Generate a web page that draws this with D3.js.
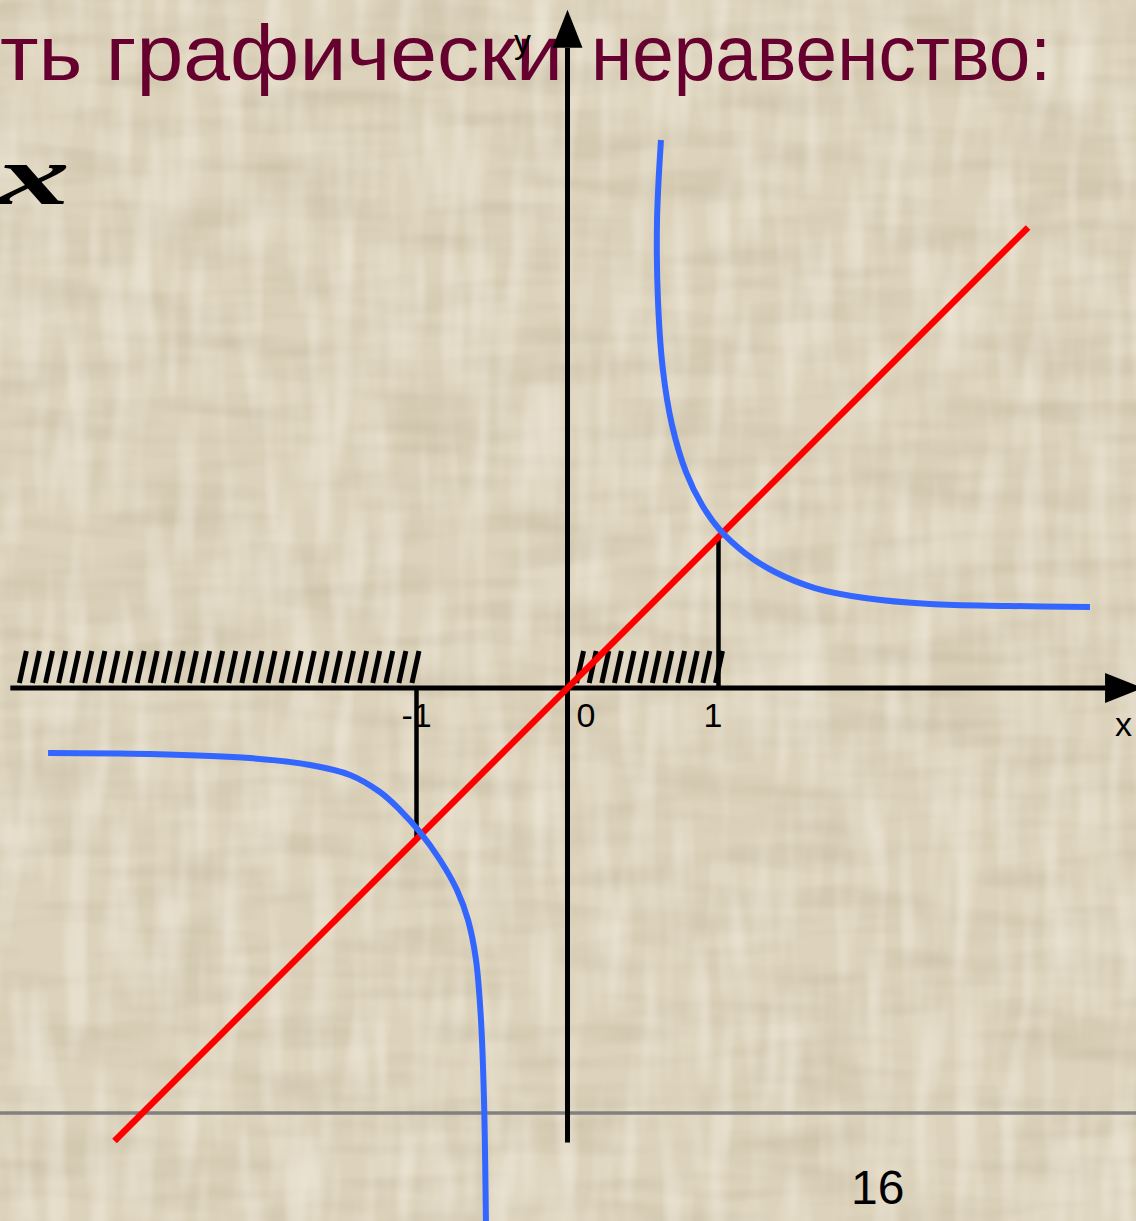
<!DOCTYPE html>
<html lang="ru">
<head>
  <meta charset="UTF-8">
  <title>Решить графически неравенство</title>
  <script src="https://d3js.org/d3.v7.min.js"></script>
  <style>
    body {
      margin: 0;
      width: 1136px;
      height: 1221px;
      overflow: hidden;
      background-color: #ddd2bb;
    }
    svg { display: block; }
  </style>
</head>
<body>
  <div id="chart"></div>

  <script>
    // values (in graph units, 1 = one grid unit)
    const redX = [-3.0, 3.05];
    const redY = [-3.0, 3.05];

    const blueRightX = [0.619, 0.593, 0.599, 0.632, 0.692, 0.785, 0.891, 1.010, 1.175, 1.374, 1.639, 1.970, 2.401, 2.930, 3.460];
    const blueRightY = [3.629, 3.099, 2.570, 2.106, 1.742, 1.430, 1.212, 1.046, 0.894, 0.768, 0.662, 0.596, 0.556, 0.543, 0.536];

    const blueLeftX = [-3.440, -2.765, -2.103, -1.705, -1.440, -1.242, -1.109, -0.977, -0.844, -0.732, -0.659, -0.606, -0.573, -0.553, -0.540];
    const blueLeftY = [-0.430, -0.437, -0.464, -0.510, -0.576, -0.689, -0.808, -0.954, -1.139, -1.338, -1.536, -1.801, -2.199, -2.728, -3.556];

    // solution intervals shaded on the x axis
    const hatchFrom = [-3.63, 0.06];
    const hatchTo = [-1.03, 0.98];

    // drop lines from intersections to the x axis
    const dropX = [-1, 1];
    const dropY = [-1, 1];

    const tickValues = [-1, 0, 1];
    const tickLabels = ['-1', '0', '1'];

    const titleParts = ['ть графически', 'неравенство:'];

    const xAxisRange = [-3.69, 3.56];
    const yAxisRange = [-3.01, 4.24];

    const width = 1136, height = 1221;

    const x = d3.scaleLinear().domain([0, 1]).range([567.5, 718.5]);
    const y = d3.scaleLinear().domain([0, 1]).range([688, 537]);

    const svg = d3.select('#chart')
      .append('svg')
      .attr('width', width)
      .attr('height', height);

    // textured paper background
    const defs = svg.append('defs');
    const f1 = defs.append('filter').attr('id', 'texH')
      .attr('x', 0).attr('y', 0).attr('width', '100%').attr('height', '100%');
    f1.append('feTurbulence').attr('type', 'fractalNoise')
      .attr('baseFrequency', '0.008 0.045').attr('numOctaves', 2).attr('seed', 4);
    f1.append('feColorMatrix').attr('type', 'matrix')
      .attr('values', '0 0 0 0 0.50  0 0 0 0 0.43  0 0 0 0 0.30  0.9 0 0 0 -0.36');
    const f2 = defs.append('filter').attr('id', 'texV')
      .attr('x', 0).attr('y', 0).attr('width', '100%').attr('height', '100%');
    f2.append('feTurbulence').attr('type', 'fractalNoise')
      .attr('baseFrequency', '0.045 0.008').attr('numOctaves', 2).attr('seed', 9);
    f2.append('feColorMatrix').attr('type', 'matrix')
      .attr('values', '0 0 0 0 0.98  0 0 0 0 0.95  0 0 0 0 0.88  0.9 0 0 0 -0.36');

    svg.append('rect').attr('width', width).attr('height', height).attr('fill', '#ddd3bc');
    svg.append('rect').attr('width', width).attr('height', height).attr('filter', 'url(#texH)');
    svg.append('rect').attr('width', width).attr('height', height).attr('filter', 'url(#texV)');

    // title (split around the y axis like the slide)
    const title = svg.append('text')
      .attr('y', 80)
      .attr('font-family', 'Liberation Sans, Arial, sans-serif')
      .attr('font-size', 78)
      .attr('fill', '#66002e');
    title.append('tspan')
      .attr('x', 0)
      .attr('textLength', 563)
      .attr('lengthAdjust', 'spacingAndGlyphs')
      .text(titleParts[0]);
    title.append('tspan')
      .attr('x', 591)
      .attr('textLength', 460)
      .attr('lengthAdjust', 'spacingAndGlyphs')
      .text(titleParts[1]);

    svg.append('text')
      .attr('transform', 'translate(70,204) scale(1.75,1)')
      .attr('text-anchor', 'end')
      .attr('font-family', 'Liberation Serif, serif')
      .attr('font-style', 'italic')
      .attr('font-weight', 'bold')
      .attr('font-size', 84)
      .attr('fill', '#000')
      .text('x');

    // footer rule and page number
    svg.append('line')
      .attr('x1', 0).attr('x2', width)
      .attr('y1', 1113).attr('y2', 1113)
      .attr('stroke', '#808080')
      .attr('stroke-width', 3.5);

    svg.append('text')
      .attr('x', 851)
      .attr('y', 1204)
      .attr('font-family', 'Liberation Sans, Arial, sans-serif')
      .attr('font-size', 48)
      .attr('fill', '#000')
      .text('16');

    // hatching
    const slashes = [];
    hatchFrom.forEach((a, i) => {
      const x0 = x(a), x1 = x(hatchTo[i]);
      const n = Math.round((x1 - x0) / 13);
      const step = (x1 - x0) / n;
      d3.range(n + 1).forEach(k => slashes.push(x0 + k * step));
    });
    svg.append('g')
      .selectAll('line')
      .data(slashes)
      .enter()
      .append('line')
      .attr('x1', d => d)
      .attr('y1', 683)
      .attr('x2', d => d + 7)
      .attr('y2', 651)
      .attr('stroke', '#000')
      .attr('stroke-width', 5);

    // axes
    svg.append('line')
      .attr('x1', x(xAxisRange[0])).attr('x2', x(xAxisRange[1]))
      .attr('y1', y(0)).attr('y2', y(0))
      .attr('stroke', '#000').attr('stroke-width', 5);
    svg.append('path')
      .attr('d', `M${x(xAxisRange[1])},${y(0) - 15}L${x(xAxisRange[1]) + 38},${y(0)}L${x(xAxisRange[1])},${y(0) + 15}Z`)
      .attr('fill', '#000');

    svg.append('line')
      .attr('x1', x(0)).attr('x2', x(0))
      .attr('y1', y(yAxisRange[0])).attr('y2', y(yAxisRange[1]))
      .attr('stroke', '#000').attr('stroke-width', 5);
    svg.append('path')
      .attr('d', `M${x(0) - 15},${y(yAxisRange[1])}L${x(0)},${y(yAxisRange[1]) - 38}L${x(0) + 15},${y(yAxisRange[1])}Z`)
      .attr('fill', '#000');

    // drop lines
    svg.append('g')
      .selectAll('line')
      .data(dropX)
      .enter()
      .append('line')
      .attr('x1', d => x(d)).attr('x2', d => x(d))
      .attr('y1', y(0)).attr('y2', (d, i) => y(dropY[i]))
      .attr('stroke', '#000').attr('stroke-width', 4.5);

    // tick labels
    const labelDx = [-15, 9, -15];
    svg.append('g')
      .selectAll('text')
      .data(tickValues)
      .enter()
      .append('text')
      .attr('x', (d, i) => x(d) + labelDx[i])
      .attr('y', 727)
      .attr('font-family', 'Liberation Sans, Arial, sans-serif')
      .attr('font-size', 34)
      .attr('fill', '#000')
      .text((d, i) => tickLabels[i]);

    svg.append('text')
      .attr('x', 1115).attr('y', 736)
      .attr('font-family', 'Liberation Sans, Arial, sans-serif')
      .attr('font-size', 34)
      .text('x');
    svg.append('text')
      .attr('x', 514).attr('y', 53)
      .attr('font-family', 'Liberation Sans, Arial, sans-serif')
      .attr('font-size', 34)
      .text('y');

    // curves
    const line = d3.line()
      .x(d => x(d[0]))
      .y(d => y(d[1]))
      .curve(d3.curveCatmullRom.alpha(0.5));

    svg.append('path')
      .datum(redX.map((v, i) => [v, redY[i]]))
      .attr('d', d3.line().x(d => x(d[0])).y(d => y(d[1])))
      .attr('fill', 'none')
      .attr('stroke', '#ff0000')
      .attr('stroke-width', 6.5);

    svg.append('path')
      .datum(blueRightX.map((v, i) => [v, blueRightY[i]]))
      .attr('d', line)
      .attr('fill', 'none')
      .attr('stroke', '#3366ff')
      .attr('stroke-width', 6);

    svg.append('path')
      .datum(blueLeftX.map((v, i) => [v, blueLeftY[i]]))
      .attr('d', line)
      .attr('fill', 'none')
      .attr('stroke', '#3366ff')
      .attr('stroke-width', 6);
  </script>
</body>
</html>
